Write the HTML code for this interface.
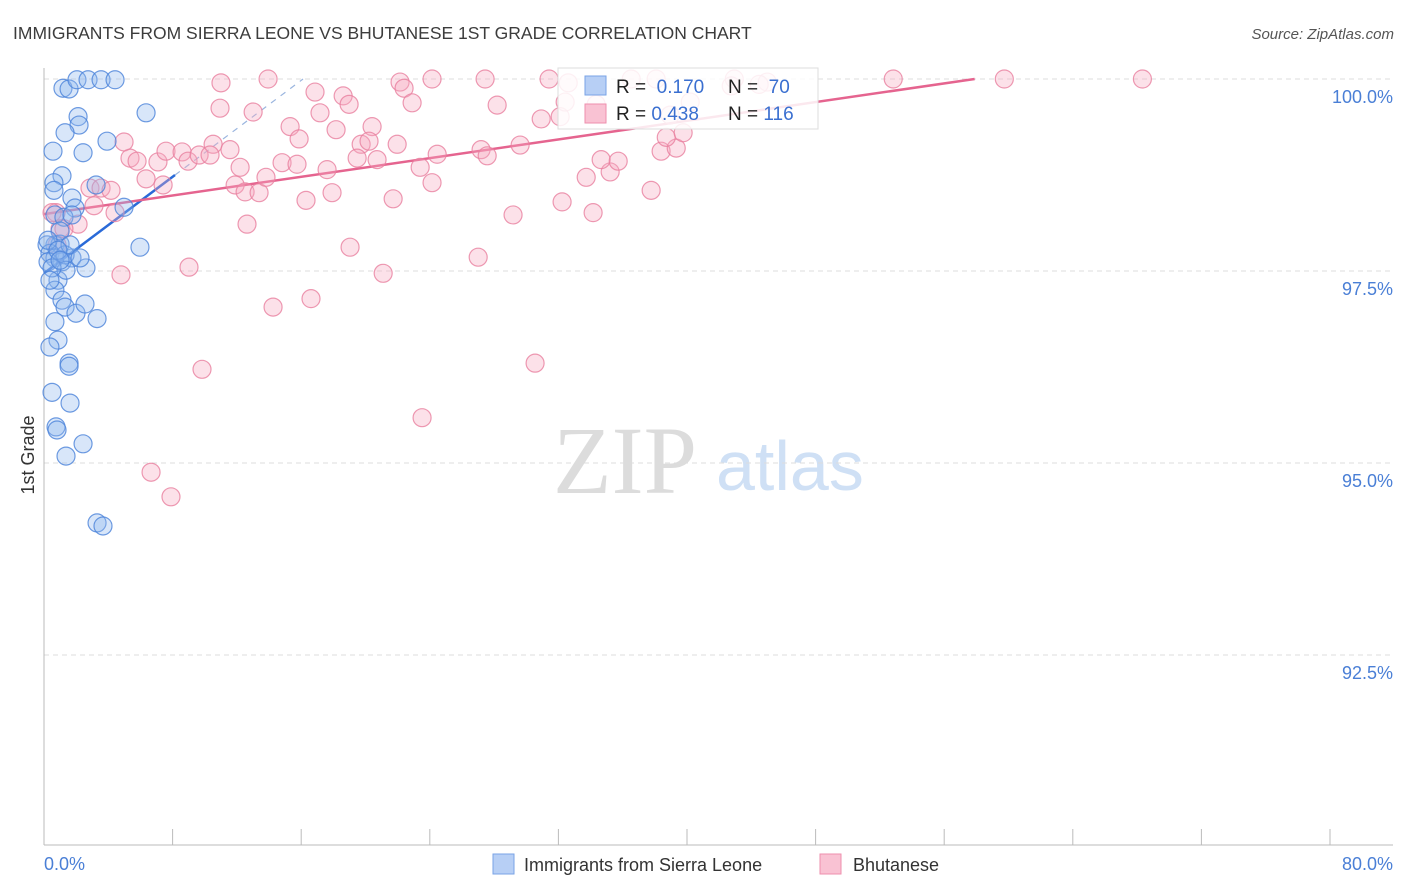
<!DOCTYPE html>
<html><head><meta charset="utf-8"><style>
body{margin:0;background:#fff;font-family:"Liberation Sans",sans-serif;}
#wrap{position:relative;width:1406px;height:892px;overflow:hidden;}
</style></head><body>
<div id="wrap">
<svg id="svg" width="1406" height="892" xmlns="http://www.w3.org/2000/svg">
<text x="13" y="39" font-size="17.5" fill="#3c3c3c">IMMIGRANTS FROM SIERRA LEONE VS BHUTANESE 1ST GRADE CORRELATION CHART</text>
<text x="1394" y="39" font-size="15" fill="#555" text-anchor="end" font-style="italic">Source: ZipAtlas.com</text>
<text transform="translate(34,455) rotate(-90)" font-size="18" fill="#333" text-anchor="middle">1st Grade</text>
<g><text x="553" y="493" font-size="96" fill="#dcdcdc" font-family="Liberation Serif,serif">ZIP</text><text x="716" y="490" font-size="70" fill="#cfe0f5">atlas</text></g>
<g id="grid"></g><g id="axes"></g><g id="lines"></g><g id="pts"></g>
<g>
<rect x="558" y="68" width="260" height="61" fill="#fff" fill-opacity="0.85" stroke="#ddd"/>
<rect x="585" y="76" width="21" height="19" fill="#b7cff5" stroke="#7aa3e6"/>
<rect x="585" y="104" width="21" height="19" fill="#f9c2d3" stroke="#ee8fae"/>
<text x="616" y="93" font-size="19" fill="#222">R = <tspan fill="#3a6fd0">&#160;0.170</tspan></text>
<text x="728" y="93" font-size="19" fill="#222">N = <tspan fill="#3a6fd0">&#160;70</tspan></text>
<text x="616" y="120" font-size="19" fill="#222">R = <tspan fill="#3a6fd0">0.438</tspan></text>
<text x="728" y="120" font-size="19" fill="#222">N = <tspan fill="#3a6fd0">116</tspan></text>
</g>
<g>
<rect x="493" y="854" width="21" height="20" fill="#b7cff5" stroke="#7aa3e6"/>
<text x="524" y="871" font-size="18" fill="#333">Immigrants from Sierra Leone</text>
<rect x="820" y="854" width="21" height="20" fill="#f9c2d3" stroke="#ee8fae"/>
<text x="853" y="871" font-size="18" fill="#333">Bhutanese</text>
</g>
</svg>
</div>
<script>
const yTicks=[100,97.5,95,92.5];
const yTickLabels=["100.0%","97.5%","95.0%","92.5%"];
const xTickLabels=["0.0%","80.0%"];
const blueX=[1.18,1.56,2.05,2.74,3.55,4.42,6.35,2.12,2.18,1.31,0.56,2.43,3.92,1.12,0.62,0.62,1.74,1.93,3.24,4.98,0.68,1.24,5.97,0.68,1.0,0.19,0.37,0.68,1.12,1.74,0.25,1.31,2.61,0.87,0.68,1.12,1.31,1.99,0.68,3.3,2.55,0.87,0.37,1.56,1.56,0.5,1.62,0.75,0.81,2.43,1.37,3.3,3.67,1.0,0.25,1.62,0.87,2.24,1.37,0.5,1.74,1.0,0.37];
const blueY=[99.88,99.87,99.99,99.99,99.99,99.99,99.56,99.51,99.4,99.3,99.06,99.04,99.19,98.74,98.65,98.55,98.45,98.32,98.62,98.33,98.23,98.2,97.81,97.84,97.85,97.84,97.73,97.67,97.62,97.67,97.62,97.71,97.54,97.38,97.25,97.12,97.03,96.95,96.84,96.88,97.07,96.6,96.51,96.3,96.26,95.92,95.78,95.47,95.43,95.25,95.09,94.22,94.18,98.02,97.9,97.84,97.77,97.67,97.51,97.54,98.23,97.64,97.38];
const pinkX=[11.01,13.94,16.86,18.61,18.98,24.14,27.44,31.42,10.95,13.01,15.31,17.17,18.17,20.41,4.98,10.52,11.57,15.87,19.73,21.97,5.35,5.79,7.09,7.59,8.59,8.96,9.65,10.33,12.2,14.81,15.74,17.61,19.48,20.22,20.72,23.4,24.46,27.19,27.57,29.62,2.86,3.55,4.17,6.35,7.41,11.89,12.51,13.38,13.81,17.92,16.3,21.72,24.14,29.18,32.23,34.16,33.73,35.22,34.66,35.72,37.77,38.39,39.33,38.71,39.76,3.11,4.42,0.75,1.0,2.12,0.81,9.02,4.79,14.25,16.61,9.83,6.66,7.9,12.63,19.04,21.1,27.01,30.55,23.52,32.11,32.42,36.53,42.94,42.75,52.83,59.74,68.33,44.99,38.08,32.61,40.2,44.49,34.35,38.95,22.15,1.24,0.5,22.4,30.93,28.19,22.9];
const pinkY=[99.95,100,99.83,99.78,99.67,100,100,100,99.62,99.57,99.38,99.56,99.34,99.38,99.18,99.15,99.08,99.22,99.15,99.15,98.97,98.93,98.92,99.06,99.05,98.93,99.01,99.01,98.85,98.91,98.89,98.82,98.97,99.19,98.95,98.85,99.02,99.08,99.0,99.14,98.58,98.58,98.55,98.7,98.62,98.62,98.53,98.52,98.72,98.52,98.42,98.44,98.65,98.23,98.4,98.26,98.72,98.79,98.95,98.93,98.55,99.06,99.1,99.24,99.3,98.35,98.26,98.26,98.05,98.11,97.84,97.55,97.45,97.03,97.14,96.22,94.88,94.56,98.11,97.81,97.47,97.68,96.3,95.59,99.51,99.7,100,100,99.91,100,100,100,99.96,100,99.95,99.7,99.93,99.67,99.53,99.96,98.05,98.26,99.88,99.48,99.66,99.69];
const blueTrend=[97.47,0.157];
const pinkTrend=[98.24,0.0304];
const X0=44,X1=1330,Y0=79;
function sx(v){return X0+(v/80)*(X1-X0);}
function sy(v){return Y0+(100-v)*76.8;}
const NS="http://www.w3.org/2000/svg";
function mk(t,a,p){const e=document.createElementNS(NS,t);for(const k in a)e.setAttribute(k,a[k]);p.appendChild(e);return e;}
const grid=document.getElementById('grid'),axes=document.getElementById('axes'),lines=document.getElementById('lines'),pts=document.getElementById('pts');
yTicks.forEach((t,i)=>{
 const l=mk('line',{x1:X0,x2:1393,y1:sy(t),y2:sy(t),stroke:'#ddd','stroke-dasharray':'5,4'},grid);
 
 
 const tx=mk('text',{x:1393,y:sy(t)+24,'font-size':18,fill:'#4a7fd6','text-anchor':'end'},axes);
 tx.textContent=yTickLabels[i];
 
 
});
const ya=mk('line',{x1:X0,x2:X0,y1:68,y2:845,stroke:'#bbb'},axes);


const xa=mk('line',{x1:X0,x2:1393,y1:845,y2:845,stroke:'#bbb'},axes);


for(let i=0;i<=10;i++){
 const t=mk('line',{x1:sx(i*8),x2:sx(i*8),y1:829,y2:845,stroke:'#bbb'},axes);
 
 
}
const xl0=mk('text',{x:44,y:870,'font-size':18,fill:'#4a7fd6'},axes);xl0.textContent=xTickLabels[0];


const xl1=mk('text',{x:1393,y:870,'font-size':18,fill:'#4a7fd6','text-anchor':'end'},axes);xl1.textContent=xTickLabels[1];


function dots(xs,ys,fill,stroke,name){xs.forEach((x,i)=>{
 const c=mk('circle',{cx:sx(x),cy:sy(ys[i]),r:9,fill:fill,'fill-opacity':0.35,stroke:stroke,'stroke-width':1.2,'stroke-opacity':0.8},pts);
 
 
});}
dots(pinkX,pinkY,'#f7a8c1','#e8809f','bhutanese-point');
dots(blueX,blueY,'#90b6ee','#4a82da','sierra-leone-point');
const bxEnd=8.15,bxTop=(100-blueTrend[0])/blueTrend[1];
const b1=mk('line',{x1:sx(0),y1:sy(blueTrend[0]),x2:sx(bxEnd),y2:sy(blueTrend[0]+blueTrend[1]*bxEnd),stroke:'#2a6ad8','stroke-width':2.5},lines);


const b2=mk('line',{x1:sx(bxEnd),y1:sy(blueTrend[0]+blueTrend[1]*bxEnd),x2:sx(bxTop),y2:sy(100),stroke:'#9ab5df','stroke-width':1.2,'stroke-dasharray':'6,6'},lines);


const pxTop=(100-pinkTrend[0])/pinkTrend[1];
const p1=mk('line',{x1:sx(0),y1:sy(pinkTrend[0]),x2:sx(pxTop),y2:sy(100),stroke:'#e5648f','stroke-width':2.5},lines);


</script>
</body></html>
